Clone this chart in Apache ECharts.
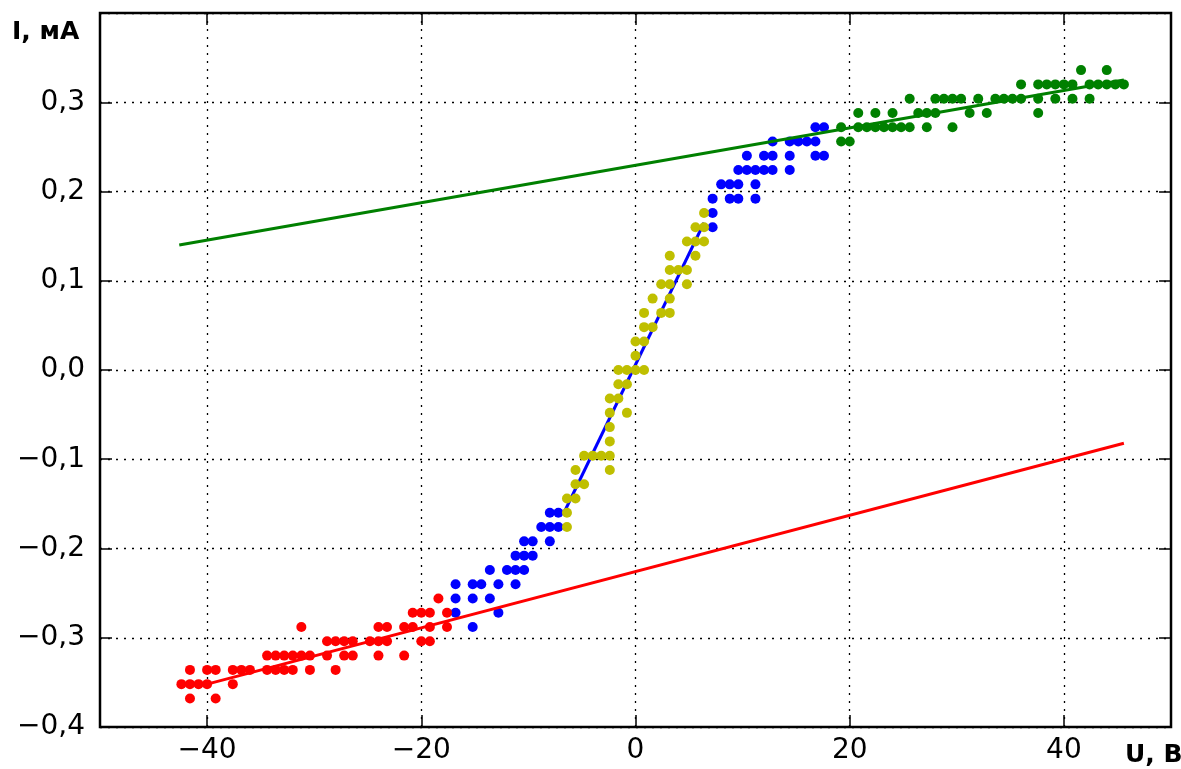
<!DOCTYPE html>
<html>
<head>
<meta charset="utf-8">
<script src="https://cdn.jsdelivr.net/npm/echarts@6/dist/echarts.min.js"></script>
<style>
html,body{margin:0;padding:0;background:#fff;}
#chart{width:1181px;height:769px;}
</style>
</head>
<body>
<div id="chart"></div>
<script>
// Tick labels
const xTicks = [-40, -20, 0, 20, 40];
const yTickLabels = ['−0,4', '−0,3', '−0,2', '−0,1', '0,0', '0,1', '0,2', '0,3'];

// Red points (U, B ; I, mA)
const redU = [-42.4, -41.6, -41.6, -41.6, -40.8, -40.0, -40.0, -39.2, -39.2, -37.6, -37.6, -36.8, -36.0,
  -34.4, -34.4, -33.6, -33.6, -32.8, -32.8, -32.0, -32.0, -31.2, -31.2, -30.4, -30.4,
  -28.8, -28.8, -28.0, -28.0, -27.2, -27.2, -26.4, -26.4, -24.8, -24.0, -24.0, -24.0,
  -23.2, -23.2, -21.6, -21.6, -20.8, -20.8, -20.0, -20.0, -19.2, -19.2, -19.2, -18.4, -17.6, -17.6];
const redI = [-0.352, -0.336, -0.352, -0.368, -0.352, -0.336, -0.352, -0.336, -0.368, -0.336, -0.352, -0.336, -0.336,
  -0.320, -0.336, -0.320, -0.336, -0.320, -0.336, -0.320, -0.336, -0.288, -0.320, -0.320, -0.336,
  -0.304, -0.320, -0.304, -0.336, -0.304, -0.320, -0.304, -0.320, -0.304, -0.288, -0.304, -0.320,
  -0.288, -0.304, -0.288, -0.320, -0.272, -0.288, -0.272, -0.304, -0.272, -0.288, -0.304, -0.256, -0.272, -0.288];

// Blue points
const blueU = [-16.8, -16.8, -16.8, -15.2, -15.2, -15.2, -14.4, -13.6, -13.6, -12.8, -12.8, -12.0,
  -11.2, -11.2, -11.2, -10.4, -10.4, -10.4, -9.6, -9.6, -8.8, -8.0, -8.0, -8.0, -7.2, -7.2,
  7.2, 7.2, 7.2, 8.0, 8.8, 8.8, 9.6, 9.6, 9.6, 10.4, 10.4, 11.2, 11.2, 11.2, 12.0, 12.0,
  12.8, 12.8, 12.8, 14.4, 14.4, 14.4, 15.2, 16.0, 16.8, 16.8, 16.8, 17.6, 17.6];
const blueI = [-0.240, -0.256, -0.272, -0.240, -0.256, -0.288, -0.240, -0.224, -0.256, -0.240, -0.272, -0.224,
  -0.208, -0.224, -0.240, -0.192, -0.208, -0.224, -0.192, -0.208, -0.176, -0.160, -0.176, -0.192, -0.160, -0.176,
  0.160, 0.176, 0.192, 0.208, 0.192, 0.208, 0.192, 0.208, 0.224, 0.224, 0.240, 0.192, 0.208, 0.224, 0.224, 0.240,
  0.224, 0.240, 0.256, 0.224, 0.240, 0.256, 0.256, 0.256, 0.240, 0.256, 0.272, 0.240, 0.272];

// Yellow points
const yellowU = [-6.4, -6.4, -6.4, -5.6, -5.6, -5.6, -4.8, -4.8, -4.0, -3.2,
  -2.4, -2.4, -2.4, -2.4, -2.4, -2.4, -1.6, -1.6, -1.6, -0.8, -0.8, -0.8,
  0.0, 0.0, 0.0, 0.8, 0.8, 0.8, 0.8, 1.6, 1.6, 2.4, 2.4,
  3.2, 3.2, 3.2, 3.2, 3.2, 4.0, 4.8, 4.8, 4.8, 5.6, 5.6, 5.6, 6.4, 6.4, 6.4];
const yellowI = [-0.176, -0.160, -0.144, -0.144, -0.128, -0.112, -0.128, -0.096, -0.096, -0.096,
  -0.112, -0.096, -0.080, -0.064, -0.048, -0.032, -0.032, -0.016, 0.000, -0.048, -0.016, 0.000,
  0.000, 0.016, 0.032, 0.000, 0.032, 0.048, 0.064, 0.048, 0.080, 0.064, 0.096,
  0.064, 0.080, 0.096, 0.112, 0.128, 0.112, 0.096, 0.112, 0.144, 0.128, 0.144, 0.160, 0.144, 0.160, 0.176];

// Green points
const greenU = [19.2, 19.2, 20.0, 20.8, 20.8, 21.6, 22.4, 22.4, 23.2, 24.0, 24.0, 24.8, 25.6, 25.6, 26.4,
  27.2, 27.2, 28.0, 28.0, 28.8, 29.6, 29.6, 30.4, 31.2, 32.0, 32.8, 33.6, 34.4, 35.2, 36.0, 36.0,
  37.6, 37.6, 37.6, 38.4, 39.2, 39.2, 40.0, 40.8, 40.8, 41.6, 42.4, 42.4, 43.2, 44.0, 44.0, 44.8, 45.6];
const greenI = [0.256, 0.272, 0.256, 0.272, 0.288, 0.272, 0.272, 0.288, 0.272, 0.272, 0.288, 0.272, 0.272, 0.304, 0.288,
  0.272, 0.288, 0.288, 0.304, 0.304, 0.272, 0.304, 0.304, 0.288, 0.304, 0.288, 0.304, 0.304, 0.304, 0.304, 0.320,
  0.288, 0.304, 0.320, 0.320, 0.304, 0.320, 0.320, 0.304, 0.320, 0.336, 0.304, 0.320, 0.320, 0.320, 0.336, 0.320, 0.320];

// Fitted lines (endpoints)
const redLineU = [-40.0, 45.6];
const redLineI = [-0.352, -0.082];
const greenLineU = [-42.6, 45.6];
const greenLineI = [0.140, 0.325];
const blueLineU = [-6.6, 6.4];
const blueLineI = [-0.158, 0.165];

function zip(a, b) { return a.map((v, i) => [v, b[i]]); }

const FONT = 'DejaVu Sans';
const chart = echarts.init(document.getElementById('chart'), null, {renderer: 'canvas'});

function yFmt(v) {
  const r = Math.round(v * 10);
  if (r > 3) return '';
  return yTickLabels[r + 4];
}

const tickStyle = {show: true, inside: true, length: 12, lineStyle: {color: '#000', width: 1.5}};

const option = {
  animation: false,
  backgroundColor: '#fff',
  grid: {left: 100, right: 10, top: 13, bottom: 42, show: true, borderColor: '#000', borderWidth: 2.5, backgroundColor: 'transparent'},
  xAxis: [{
    type: 'value', min: -50, max: 50, position: 'bottom',
    axisLine: {show: false, onZero: false},
    axisTick: Object.assign({customValues: xTicks}, tickStyle),
    axisLabel: {customValues: xTicks, color: '#000', fontFamily: FONT, fontSize: 28, margin: 10,
      formatter: v => String(v).replace('-', '\u2212')},
    splitLine: {show: true, lineStyle: {color: '#000', width: 1.3, type: [2, 6]}}
  }, {
    type: 'value', min: -50, max: 50, position: 'top',
    axisLine: {show: false, onZero: false},
    axisTick: Object.assign({customValues: xTicks}, tickStyle),
    axisLabel: {show: false},
    splitLine: {show: false}
  }],
  yAxis: [{
    type: 'value', min: -0.4, max: 0.4, interval: 0.1, position: 'left',
    axisLine: {show: false, onZero: false},
    axisTick: tickStyle,
    axisLabel: {color: '#000', fontFamily: FONT, fontSize: 28, margin: 15, formatter: yFmt},
    splitLine: {show: true, lineStyle: {color: '#000', width: 1.3, type: [2, 6]}}
  }, {
    type: 'value', min: -0.4, max: 0.4, interval: 0.1, position: 'right',
    axisLine: {show: false, onZero: false},
    axisTick: tickStyle,
    axisLabel: {show: false},
    splitLine: {show: false}
  }],
  graphic: [
    {type: 'text', left: 12, top: 20, style: {text: 'I, мА', font: 'bold 25px "DejaVu Sans"', fill: '#000'}},
    {type: 'text', left: 1125, top: 743, style: {text: 'U, В', font: 'bold 25px "DejaVu Sans"', fill: '#000'}}
  ],
  series: [
    {type: 'scatter', data: zip(blueU, blueI), symbolSize: 10, itemStyle: {color: '#0000ff', opacity: 1}, z: 2},
    {type: 'line', data: zip(blueLineU, blueLineI), showSymbol: false, lineStyle: {color: '#0000ff', width: 3}, z: 3},
    {type: 'scatter', data: zip(yellowU, yellowI), symbolSize: 10, itemStyle: {color: '#bfbf00', opacity: 1}, z: 4},
    {type: 'scatter', data: zip(redU, redI), symbolSize: 10, itemStyle: {color: '#ff0000', opacity: 1}, z: 5},
    {type: 'line', data: zip(redLineU, redLineI), showSymbol: false, lineStyle: {color: '#ff0000', width: 3}, z: 6},
    {type: 'scatter', data: zip(greenU, greenI), symbolSize: 10, itemStyle: {color: '#008000', opacity: 1}, z: 7},
    {type: 'line', data: zip(greenLineU, greenLineI), showSymbol: false, lineStyle: {color: '#008000', width: 3}, z: 8}
  ]
};
chart.setOption(option);
</script>
</body>
</html>
